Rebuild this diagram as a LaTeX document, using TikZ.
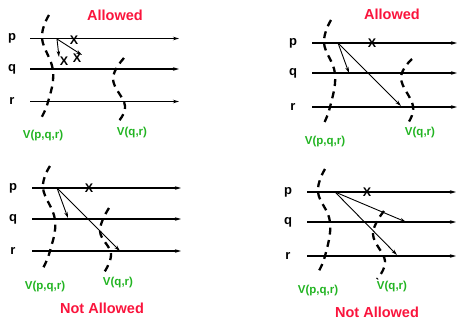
\documentclass[tikz,border=0pt]{standalone}
\usepackage{fontspec}
\setmainfont{Liberation Sans}
\usetikzlibrary{arrows.meta}
\definecolor{hred}{RGB}{250,20,60}
\definecolor{hgreen}{RGB}{34,180,34}
\tikzset{
  procline/.style={line width=1.4pt,-{Stealth[length=6pt,width=3.5pt]}},
  msg/.style={line width=0.9pt,-{Stealth[length=6pt,width=3.5pt]}},
  cut/.style={line width=2.3pt,dash pattern=on 7pt off 5.5pt},
  plabel/.style={font=\fontsize{13}{13}\selectfont\bfseries,inner sep=0pt},
  vlabel/.style={font=\fontsize{11.5}{11.5}\selectfont\bfseries,text=hgreen,inner sep=0pt},
  title/.style={font=\fontsize{14.5}{14.5}\selectfont\bfseries,text=hred,inner sep=0pt},
  xmark/.style={font=\fontsize{12.5}{12.5}\selectfont\bfseries,inner sep=0pt},
}
\begin{document}
\begin{tikzpicture}[x=1pt,y=-1pt]
\useasboundingbox (0,0) rectangle (457,322);
% ---------- Panel 1 ----------
\node[title] (t1) at (115,15) {Allowed};
\node[plabel] (p1) at (12,38) {p};
\node[plabel] (q1) at (12,69) {q};
\node[plabel] (r1) at (12,101) {r};
\coordinate (p1s) at (30,38.5); \coordinate (p1e) at (179,38.5);
\coordinate (q1s) at (30,69); \coordinate (q1e) at (179,69);
\coordinate (r1s) at (30,101.5); \coordinate (r1e) at (179,101.5);
\draw[procline] (p1s) -- (p1e);
\draw[procline] (q1s) -- (q1e);
\draw[procline] (r1s) -- (r1e);
\draw[cut] plot[smooth,tension=0.7] coordinates {(49,15) (42,38) (53,71) (48,102) (40,120)};
\draw[cut] plot[smooth,tension=0.7] coordinates {(124,58) (113,79) (125,106) (117,123)};
\node[vlabel] (v1a) at (43,136) {V(p,q,r)};
\node[vlabel] (v1b) at (132,133) {V(q,r)};
\coordinate (m1) at (57,39);
\coordinate (m1a) at (59,57); \coordinate (m1b) at (82,55);
\draw[msg] (m1) -- (m1a);
\draw[msg] (m1) -- (m1b);
\node[xmark] (x1) at (74,40) {X};
\node[xmark] (x1a) at (64,61) {X};
\node[xmark] (x1b) at (77,58) {X};
% ---------- Panel 2 ----------
\node[title] (t2) at (392,14) {Allowed};
\node[plabel] (p2) at (293,43) {p};
\node[plabel] (q2) at (293,73) {q};
\node[plabel] (r2) at (293,107) {r};
\coordinate (p2s) at (312,43); \coordinate (p2e) at (457,43);
\coordinate (q2s) at (312,73); \coordinate (q2e) at (457,73);
\coordinate (r2s) at (312,107); \coordinate (r2e) at (457,107);
\draw[procline] (p2s) -- (p2e);
\draw[procline] (q2s) -- (q2e);
\draw[procline] (r2s) -- (r2e);
\draw[cut] plot[smooth,tension=0.7] coordinates {(331,20) (324,43) (335,74) (330,107) (323,125)};
\draw[cut] plot[smooth,tension=0.7] coordinates {(412,59) (401,78) (413,106) (408,123)};
\node[vlabel] (v2a) at (325,142) {V(p,q,r)};
\node[vlabel] (v2b) at (420,133) {V(q,r)};
\coordinate (m2) at (338,43);
\coordinate (m2a) at (349,73); \coordinate (m2b) at (401,106);
\draw[msg] (m2) -- (m2a);
\draw[msg] (m2) -- (m2b);
\node[xmark] (x2) at (372,43) {X};
% ---------- Panel 3 ----------
\node[plabel] (p3) at (13,188) {p};
\node[plabel] (q3) at (13,219) {q};
\node[plabel] (r3) at (13,251) {r};
\coordinate (p3s) at (32,188); \coordinate (p3e) at (181,188);
\coordinate (q3s) at (32,219); \coordinate (q3e) at (181,219);
\coordinate (r3s) at (32,251); \coordinate (r3e) at (181,251);
\draw[procline] (p3s) -- (p3e);
\draw[procline] (q3s) -- (q3e);
\draw[procline] (r3s) -- (r3e);
\draw[cut] plot[smooth,tension=0.7] coordinates {(50,166) (43,188) (55,220) (50,251) (42,270)};
\draw[cut] plot[smooth,tension=0.7] coordinates {(109,208) (100,231) (111,254) (103,274)};
\node[vlabel] (v3a) at (45,287) {V(p,q,r)};
\node[vlabel] (v3b) at (118,283) {V(q,r)};
\coordinate (m3) at (57,188);
\coordinate (m3a) at (68,218); \coordinate (m3b) at (120,251);
\draw[msg] (m3) -- (m3a);
\draw[msg] (m3) -- (m3b);
\node[xmark] (x3) at (89,188) {X};
\node[title] (t3) at (102,308) {Not Allowed};
% ---------- Panel 4 ----------
\node[plabel] (p4) at (288,192) {p};
\node[plabel] (q4) at (288,222) {q};
\node[plabel] (r4) at (288,256) {r};
\coordinate (p4s) at (307,192); \coordinate (p4e) at (456,192);
\coordinate (q4s) at (307,222); \coordinate (q4e) at (456,222);
\coordinate (r4s) at (307,256); \coordinate (r4e) at (456,256);
\draw[procline] (p4s) -- (p4e);
\draw[procline] (q4s) -- (q4e);
\draw[procline] (r4s) -- (r4e);
\draw[cut] plot[smooth,tension=0.7] coordinates {(325,169) (318,192) (330,222) (325,256) (317,274)};
\draw[cut] plot[smooth,tension=0.7] coordinates {(384,211) (373,234) (385,261) (377,279)};
\node[vlabel] (v4a) at (318,291) {V(p,q,r)};
\node[vlabel] (v4b) at (392,287) {V(q,r)};
\coordinate (m4) at (335,192);
\coordinate (m4a) at (406,222); \coordinate (m4b) at (397,255);
\draw[msg] (m4) -- (m4a);
\draw[msg] (m4) -- (m4b);
\node[xmark] (x4) at (367,192) {X};
\node[title] (t4) at (377,312) {Not Allowed};
\end{tikzpicture}
\end{document}
